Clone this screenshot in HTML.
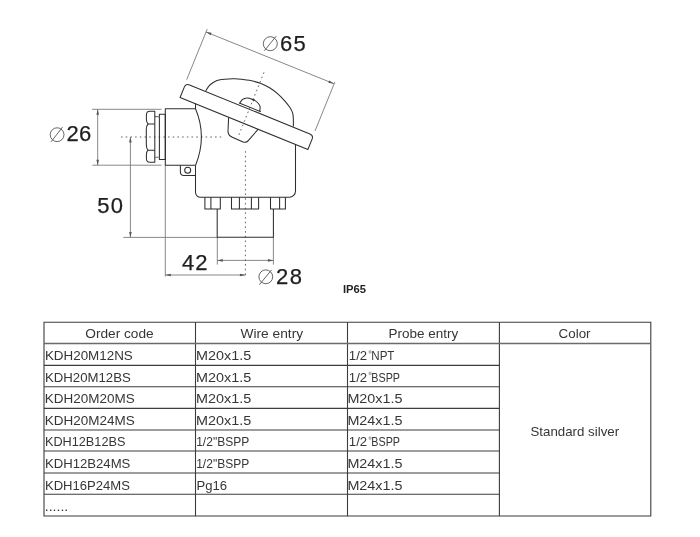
<!DOCTYPE html>
<html><head><meta charset="utf-8">
<style>
html,body{margin:0;padding:0;background:#fff;width:700px;height:537px;overflow:hidden}
svg{display:block;position:absolute;left:0;top:0}
text{font-family:"Liberation Sans",sans-serif}
svg{will-change:transform}
</style></head>
<body>
<svg width="700" height="537" viewBox="0 0 700 537">

<g stroke="#7a7a7a" stroke-width="0.9" fill="none">
  <line x1="186.7" y1="79.6" x2="207.2" y2="29.2"/>
  <line x1="315" y1="131" x2="334.9" y2="81.9"/>
  <line x1="206" y1="32" x2="333.9" y2="83.7"/>
  <line x1="92" y1="109.3" x2="161.5" y2="109.3"/>
  <line x1="92.4" y1="165.2" x2="161.5" y2="165.2"/>
  <line x1="97.7" y1="109.3" x2="97.7" y2="165.2"/>
  <line x1="123.3" y1="237.4" x2="217.2" y2="237.4"/>
  <line x1="130.4" y1="137" x2="130.4" y2="237.4"/>
  <line x1="165.3" y1="165.2" x2="165.3" y2="276.5"/>
  <line x1="165.3" y1="275" x2="245.4" y2="275"/>
  <line x1="217.3" y1="237" x2="217.3" y2="264.6"/>
  <line x1="273.4" y1="237" x2="273.4" y2="264.6"/>
  <line x1="217.3" y1="260.4" x2="273.4" y2="260.4"/>
</g>
<path fill="#555" stroke="none" d="M206.00,32.00 L211.59,32.86 L210.61,35.27 Z M333.90,83.70 L328.31,82.84 L329.29,80.43 Z M97.70,109.30 L99.00,114.80 L96.40,114.80 Z M97.70,165.20 L96.40,159.70 L99.00,159.70 Z M130.40,137.00 L131.70,142.50 L129.10,142.50 Z M130.40,237.40 L129.10,231.90 L131.70,231.90 Z M165.30,275.00 L170.80,273.70 L170.80,276.30 Z M245.40,275.00 L239.90,276.30 L239.90,273.70 Z M217.30,260.40 L222.80,259.10 L222.80,261.70 Z M273.40,260.40 L267.90,261.70 L267.90,259.10 Z"/>
<g stroke="#555" stroke-width="0.9" fill="none" stroke-dasharray="1.6 3.1">
  <line x1="121" y1="137" x2="223.5" y2="137"/>
  <line x1="245.4" y1="151.2" x2="245.4" y2="276.5"/>
  <line x1="264" y1="72.3" x2="238.5" y2="136"/>
</g>
<g stroke="#2e2e2e" stroke-width="1.05" fill="none" stroke-linejoin="round">
  <g transform="translate(185.8,83.4) rotate(22.15)">
    <path d="M0,15.2 L0,4 Q0,0 4,0 L134,0 Q138,0 138,4 L138,15.2 Z"/>
    <line x1="57.6" y1="-2" x2="80.2" y2="-2" stroke-width="0.9"/>
  </g>
  <path d="M205.70,90.90 C206.30,90.02 208.10,86.97 209.30,85.60 C210.50,84.23 211.60,83.53 212.90,82.70 C214.20,81.87 215.68,81.12 217.10,80.60 C218.52,80.08 219.48,79.88 221.40,79.60 C223.32,79.32 226.33,79.03 228.60,78.90 C230.87,78.77 232.87,78.73 235.00,78.80 C237.13,78.87 239.02,79.05 241.40,79.30 C243.78,79.55 246.13,79.65 249.30,80.30 C252.47,80.95 257.02,81.95 260.40,83.20 C263.78,84.45 266.70,86.02 269.60,87.80 C272.50,89.58 275.25,91.68 277.80,93.90 C280.35,96.12 282.85,98.78 284.90,101.10 C286.95,103.42 288.82,105.83 290.10,107.80 C291.38,109.77 292.07,111.20 292.60,112.90 C293.13,114.60 293.17,115.72 293.30,118.00 C293.43,120.28 293.38,125.17 293.40,126.60"/>
  <path d="M239.30,103.60 C239.57,103.23 240.35,102.10 240.90,101.40 C241.45,100.70 241.95,99.90 242.60,99.40 C243.25,98.90 244.03,98.62 244.80,98.40 C245.57,98.18 246.12,98.02 247.20,98.10 C248.28,98.18 249.98,98.48 251.30,98.90 C252.62,99.32 253.92,99.83 255.10,100.60 C256.28,101.37 257.57,102.48 258.40,103.50 C259.23,104.52 259.85,105.68 260.10,106.70 C260.35,107.72 259.98,108.85 259.90,109.60 C259.82,110.35 259.65,110.93 259.60,111.20"/>
  <path d="M251.3,98.7 L254.6,98.9 L253.6,101.6 Z" fill="#2e2e2e" stroke="none"/>
  <path d="M228.6,117.5 L228,131.6 Q228.4,135.6 232.3,137.2 L243.1,142 Q246.4,143 248.3,140.6 L258,129.4"/>
  <path d="M195.5,103.5 L195.5,108.7 C203.3,127 203.3,146 195.6,165.2"/>
  <path d="M195.5,165.2 L195.5,192.3 A5,5 0 0 0 200.5,197.3 L289.3,197.3 A6.2,6.2 0 0 0 295.5,191.1 L295.5,144.3"/>
  <path d="M195.5,108.7 L165.3,108.7 L165.3,165.2 L195.5,165.2"/>
  <rect x="159.4" y="114.2" width="5.9" height="45.3"/>
  <path d="M154.8,116.6 L159.4,116.6 M154.8,157.3 L159.4,157.3" stroke="#777"/>
  <path d="M154.8,111.2 L154.8,162.2 L149.8,162.2 Q146.5,162.2 146.4,158.5 L146.4,154.5 Q146.4,151.8 148,150.2 Q146.3,148 146.3,144.5 L146.3,129.5 Q146.3,126 148,123.9 Q146.4,122 146.4,119.5 L146.4,115 Q146.5,111.2 149.8,111.2 Z"/>
  <path d="M148,123.9 L154.8,123.9 M148,150.2 L154.8,150.2"/>
  <path d="M180.4,165.2 L180.4,171.9 Q180.4,175.4 183.9,175.4 L195.5,175.4"/>
  <circle cx="187.7" cy="170.3" r="3"/>
  <path d="M204.9,197.3 V208.9 H220.3 V197.3 M231.5,197.3 V209 H258.6 V197.3 M270.5,197.3 V208.9 H285.4 V197.3"/>
  <path d="M210.9,197.3 V208.9 M239.4,197.3 V209 M251.4,197.3 V209 M279.6,197.3 V208.9"/>
  <path d="M217.2,208.9 L217.2,237.2 L273.4,237.2 L273.4,208.9"/>
</g>
<g stroke="#555" stroke-width="0.9" fill="none">
  <circle cx="57.1" cy="134.7" r="6.9"/>
  <line x1="51.1" y1="141.8" x2="62.5" y2="127.1"/>
  <circle cx="270.3" cy="43.7" r="7"/>
  <line x1="264.4" y1="50.7" x2="276.2" y2="36.2"/>
  <circle cx="265.8" cy="276.8" r="6.9"/>
  <line x1="259.4" y1="284.7" x2="271.6" y2="269.9"/>
</g>
<g font-size="22" fill="#1e1e1e" stroke="#1e1e1e" stroke-width="0.25">
<text x="66.59" y="141.40">2</text>
<text x="78.88" y="141.40">6</text>
<text x="280.08" y="50.50">6</text>
<text x="293.52" y="50.50">5</text>
<text x="97.32" y="212.70">5</text>
<text x="110.64" y="212.70">0</text>
<text x="182.00" y="269.80">4</text>
<text x="195.29" y="269.80">2</text>
<text x="275.89" y="283.60">2</text>
<text x="289.74" y="283.60">8</text>
</g>
<text x="342.95" y="292.7" font-size="11.8" font-weight="bold" fill="#222" textLength="23.06" lengthAdjust="spacingAndGlyphs">IP65</text>
<g stroke="#3c3c3c" stroke-width="1.1" fill="none">
<path d="M44.0,322.2 H650.8 V516.0 H44.0 Z"/>
<line x1="195.5" y1="322.2" x2="195.5" y2="516.0"/>
<line x1="347.5" y1="322.2" x2="347.5" y2="516.0"/>
<line x1="499.4" y1="322.2" x2="499.4" y2="516.0"/>
<line x1="44.0" y1="343.5" x2="650.8" y2="343.5" stroke="#6a6a6a" stroke-width="1.4"/>
<line x1="44.0" y1="365.4" x2="499.4" y2="365.4"/>
<line x1="44.0" y1="386.7" x2="499.4" y2="386.7"/>
<line x1="44.0" y1="408.4" x2="499.4" y2="408.4"/>
<line x1="44.0" y1="430.0" x2="499.4" y2="430.0"/>
<line x1="44.0" y1="451.0" x2="499.4" y2="451.0"/>
<line x1="44.0" y1="473.0" x2="499.4" y2="473.0"/>
<line x1="44.0" y1="494.3" x2="499.4" y2="494.3"/>
</g>
<text x="85.25" y="338.30" font-size="13.4" fill="#363636" textLength="68.46" lengthAdjust="spacingAndGlyphs">Order code</text>
<text x="240.44" y="338.30" font-size="13.4" fill="#363636" textLength="62.69" lengthAdjust="spacingAndGlyphs">Wire entry</text>
<text x="388.59" y="338.30" font-size="13.4" fill="#363636" textLength="69.73" lengthAdjust="spacingAndGlyphs">Probe entry</text>
<text x="558.62" y="338.30" font-size="13.4" fill="#363636" textLength="31.90" lengthAdjust="spacingAndGlyphs">Color</text>
<text x="530.50" y="435.80" font-size="13.4" fill="#363636" textLength="88.62" lengthAdjust="spacingAndGlyphs">Standard silver</text>
<text x="44.90" y="360.10" font-size="13.4" fill="#363636" textLength="87.91" lengthAdjust="spacingAndGlyphs">KDH20M12NS</text>
<text x="44.92" y="381.67" font-size="13.4" fill="#363636" textLength="85.89" lengthAdjust="spacingAndGlyphs">KDH20M12BS</text>
<text x="44.89" y="403.24" font-size="13.4" fill="#363636" textLength="89.93" lengthAdjust="spacingAndGlyphs">KDH20M20MS</text>
<text x="44.89" y="424.81" font-size="13.4" fill="#363636" textLength="89.93" lengthAdjust="spacingAndGlyphs">KDH20M24MS</text>
<text x="44.96" y="446.38" font-size="13.4" fill="#363636" textLength="80.42" lengthAdjust="spacingAndGlyphs">KDH12B12BS</text>
<text x="44.92" y="467.95" font-size="13.4" fill="#363636" textLength="85.48" lengthAdjust="spacingAndGlyphs">KDH12B24MS</text>
<text x="44.93" y="489.52" font-size="13.4" fill="#363636" textLength="85.07" lengthAdjust="spacingAndGlyphs">KDH16P24MS</text>
<text x="44.71" y="511.09" font-size="13.4" fill="#363636" textLength="23.58" lengthAdjust="spacingAndGlyphs">......</text>
<text x="196.02" y="360.10" font-size="13.4" fill="#363636" textLength="55.18" lengthAdjust="spacingAndGlyphs">M20x1.5</text>
<text x="196.02" y="381.67" font-size="13.4" fill="#363636" textLength="55.18" lengthAdjust="spacingAndGlyphs">M20x1.5</text>
<text x="196.02" y="403.24" font-size="13.4" fill="#363636" textLength="55.18" lengthAdjust="spacingAndGlyphs">M20x1.5</text>
<text x="196.02" y="424.81" font-size="13.4" fill="#363636" textLength="55.18" lengthAdjust="spacingAndGlyphs">M20x1.5</text>
<text x="196.18" y="446.38" font-size="13.4" fill="#363636" textLength="53.05" lengthAdjust="spacingAndGlyphs">1/2&quot;BSPP</text>
<text x="196.18" y="467.95" font-size="13.4" fill="#363636" textLength="53.05" lengthAdjust="spacingAndGlyphs">1/2&quot;BSPP</text>
<text x="196.42" y="489.52" font-size="13.4" fill="#363636" textLength="30.65" lengthAdjust="spacingAndGlyphs">Pg16</text>
<text x="348.79" y="360.10" font-size="13.4" fill="#363636" textLength="18.37" lengthAdjust="spacingAndGlyphs">1/2</text>
<rect x="368.6" y="350.30" width="3" height="3.2" rx="0.8" fill="#b4b4b4"/>
<text x="371.25" y="360.10" font-size="13.4" fill="#363636" textLength="23.22" lengthAdjust="spacingAndGlyphs">NPT</text>
<text x="348.79" y="381.67" font-size="13.4" fill="#363636" textLength="18.37" lengthAdjust="spacingAndGlyphs">1/2</text>
<rect x="368.6" y="371.87" width="3" height="3.2" rx="0.8" fill="#b4b4b4"/>
<text x="371.32" y="381.67" font-size="13.4" fill="#363636" textLength="28.75" lengthAdjust="spacingAndGlyphs">BSPP</text>
<text x="347.42" y="403.24" font-size="13.4" fill="#363636" textLength="55.08" lengthAdjust="spacingAndGlyphs">M20x1.5</text>
<text x="347.42" y="424.81" font-size="13.4" fill="#363636" textLength="55.08" lengthAdjust="spacingAndGlyphs">M24x1.5</text>
<text x="348.79" y="446.38" font-size="13.4" fill="#363636" textLength="18.37" lengthAdjust="spacingAndGlyphs">1/2</text>
<rect x="368.6" y="436.58" width="3" height="3.2" rx="0.8" fill="#b4b4b4"/>
<text x="371.32" y="446.38" font-size="13.4" fill="#363636" textLength="28.75" lengthAdjust="spacingAndGlyphs">BSPP</text>
<text x="347.42" y="467.95" font-size="13.4" fill="#363636" textLength="55.08" lengthAdjust="spacingAndGlyphs">M24x1.5</text>
<text x="347.42" y="489.52" font-size="13.4" fill="#363636" textLength="55.08" lengthAdjust="spacingAndGlyphs">M24x1.5</text>
</svg>
</body></html>
